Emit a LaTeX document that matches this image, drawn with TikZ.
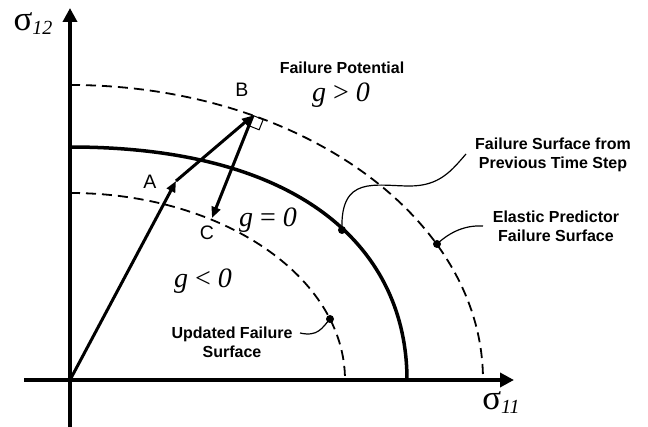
\documentclass[tikz,border=0pt]{standalone}
\usepackage{fontspec}
\setmainfont{Liberation Sans}
\newfontfamily\tms{Liberation Serif}
\usetikzlibrary{arrows.meta}
\begin{document}
\begin{tikzpicture}[x=1pt,y=-1pt,
  axisline/.style={line width=4.5pt,-{Triangle[length=14pt,width=14pt]}},
  dashcurve/.style={line width=1.8pt,dash pattern=on 10pt off 6pt},
  solidcurve/.style={line width=3.5pt},
  vec/.style={line width=3pt,-{Triangle[length=11pt,width=9pt]}},
  leader/.style={line width=1.2pt},
  dot/.style={circle,fill=black,inner sep=0pt,minimum size=8pt},
  note/.style={font=\fontsize{16}{19}\selectfont\bfseries,align=center,inner sep=0pt},
  ptlabel/.style={font=\fontsize{19.5}{21}\selectfont,inner sep=0pt},
  glabel/.style={font=\tms\fontsize{28}{30}\selectfont,inner sep=0pt},
  siglabel/.style={font=\tms\fontsize{35}{37}\selectfont,inner sep=0pt}
]
\useasboundingbox (0,0) rectangle (648,427);
% axes
\coordinate (O) at (70,380);
\coordinate (ytop) at (70,8);
\coordinate (ybot) at (70,427);
\coordinate (xleft) at (24,380);
\coordinate (xright) at (514,380);
\draw[axisline] (ybot) -- (ytop);
\draw[axisline] (xleft) -- (xright);
% curves
\draw[dashcurve] (70,85) .. controls (298,85) and (483,217) .. (483,380);
\draw[dashcurve] (70,193) .. controls (222,193) and (345,277) .. (345,380);
\draw[solidcurve] (70,147) .. controls (306,147) and (407,252) .. (407,380);
% points
\coordinate (A) at (176,181);
\coordinate (B) at (253,115.5);
\coordinate (C) at (212,218);
\draw[vec] (O) -- (A);
\draw[vec] (A) -- (B);
\draw[vec] (B) -- (C);
\draw[line width=1pt] (B) -- (263.2,119.6) -- (259.1,129.8) -- (248.9,125.7);
\node[ptlabel] (la) at (150,182) {A};
\node[ptlabel] (lb) at (242,90) {B};
\node[ptlabel] (lc) at (207,233) {C};
% dots
\node[dot] (d1) at (342,230) {};
\node[dot] (d2) at (437,244) {};
\node[dot] (d3) at (330,319) {};
% labels
\node[siglabel] (s12) at (33,24) {σ\raisebox{-4pt}{\fontsize{20}{22}\selectfont\itshape 12}};
\node[siglabel] (s11) at (501,403) {σ\raisebox{-4pt}{\fontsize{20}{22}\selectfont\itshape 11}};
\node[note] (fp) at (342,68) {Failure Potential};
\node[glabel] (g1) at (341,95) {\itshape g\upshape{} > \itshape 0};
\node[glabel] (g2) at (268,220) {\itshape g\upshape{} = \itshape 0};
\node[glabel] (g3) at (203,281) {\itshape g\upshape{} < \itshape 0};
\node[note] (fs) at (553,155) {Failure Surface from\\Previous Time Step};
\node[note] (ep) at (556,226) {Elastic Predictor\\Failure Surface};
\node[note] (uf) at (232,342) {Updated Failure\\Surface};
% leaders
\coordinate (e1) at (466,154);
\coordinate (e2) at (483,226);
\coordinate (e3) at (300,333);
\draw[leader] (d1.center) .. controls (340,175) and (375,186) .. (410,186) .. controls (440,186) and (452,170) .. (e1);
\draw[leader] (d2.center) .. controls (450,232) and (465,225) .. (e2);
\draw[leader] (e3) .. controls (318,337) and (322,328) .. (d3.center);
\end{tikzpicture}
\end{document}
